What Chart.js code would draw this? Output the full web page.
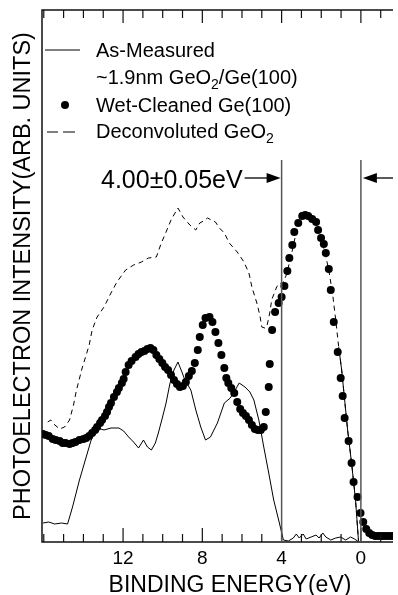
<!DOCTYPE html>
<html>
<head>
<meta charset="utf-8">
<script src="https://cdn.jsdelivr.net/npm/chart.js@4.4.0/dist/chart.umd.min.js"></script>
<style>
  html, body { margin: 0; padding: 0; background: #fff; }
</style>
</head>
<body>
<canvas id="grafico" width="398" height="595"></canvas>
<script>
// Espectros de valencia: [energía de enlace (eV), intensidad (u. arb.)]
const asMeasured = [
  [16.04,19],[15.75,20],[15.45,18],[15.1,19],[14.8,18],[14.55,35],[14.2,62],[13.86,85],[13.61,102],[13.31,114],
  [12.96,112],[12.61,114],[12.21,114],[11.97,111],[11.72,105],[11.47,100],[11.22,94],[10.97,102],[10.77,95],[10.57,92],
  [10.37,99],[10.22,109],[10.02,124],[9.83,139],[9.63,159],[9.43,172],[9.23,180],[9.03,170],[8.88,162],[8.58,152],
  [8.33,132],[8.08,115],[7.84,102],[7.59,105],[7.24,119],[6.89,139],[6.59,144],[6.34,152],[6.14,159],[5.85,155],
  [5.6,150],[5.4,142],[5.15,122],[4.9,95],[4.65,69],[4.4,42],[4.15,22],[3.91,2],[3.66,1],[3.41,4],
  [3.26,8],[3.11,4],[2.91,8],[2.76,3],[2.51,5],[2.26,7],[2.11,4],[1.92,9],[1.77,5],[1.52,2],
  [1.27,4],[1.02,5],[0.77,2],[0.52,5],[0.32,3],[0.17,1],[0.12,1],[0.27,42],[0.47,79],[0.67,112],
  [0.82,142],[0.97,172],[1.12,195]
];

const deconvolutedGeO2 = [
  [15.8,120],[15.65,122],[15.5,118],[15.2,113],[14.95,115],[14.7,122],[14.5,137],[14.35,152],[14.05,175],[13.86,187],
  [13.71,197],[13.56,212],[13.31,225],[12.96,235],[12.61,249],[12.31,260],[11.87,272],[11.47,277],[11.07,280],[10.72,284],
  [10.32,285],[10.07,299],[9.83,310],[9.58,322],[9.38,329],[9.23,334],[8.98,325],[8.63,317],[8.33,312],[8.13,319],
  [7.94,321],[7.74,324],[7.54,322],[7.34,320],[7.14,314],[6.89,309],[6.64,299],[6.24,290],[5.9,280],[5.65,269],
  [5.5,255],[5.25,239],[5.1,227],[5.0,215],[4.85,214],[4.75,215],[4.6,229],[4.5,242],[4.35,250],[4.25,255],
  [4.1,259],[3.96,258],[3.76,267],[3.51,287],[3.26,310],[3.01,330],[2.66,324],[2.36,321],[2.06,307],[1.82,290],
  [1.62,272],[1.42,247],[1.27,222],[1.12,195],[0.97,172],[0.82,142],[0.67,112],[0.47,79],[0.27,42],[0.12,1]
];

const wetCleaned = [
  [16.04,108],[15.9,107],[15.75,106],[15.55,103],[15.4,102],[15.2,101],[15.05,99],[14.9,99],[14.7,98],[14.55,99],
  [14.4,100],[14.2,102],[14.0,103],[13.86,104],[13.71,106],[13.56,109],[13.41,112],[13.31,115],[13.16,119],[13.06,122],
  [12.91,126],[12.81,130],[12.71,135],[12.61,139],[12.46,145],[12.31,150],[12.21,154],[12.06,159],[11.97,163],[11.87,170],
  [11.72,177],[11.57,181],[11.37,185],[11.22,188],[11.07,190],[10.92,191],[10.77,193],[10.62,194],[10.47,192],[10.32,187],
  [10.17,183],[10.02,179],[9.88,175],[9.73,172],[9.58,167],[9.43,162],[9.28,158],[9.13,155],[8.98,156],[8.83,160],
  [8.68,166],[8.53,171],[8.38,179],[8.23,192],[8.13,205],[7.98,217],[7.84,224],[7.64,225],[7.49,220],[7.34,210],
  [7.19,199],[7.04,187],[6.89,174],[6.79,164],[6.69,159],[6.54,154],[6.39,149],[6.24,140],[6.09,133],[5.95,129],
  [5.8,126],[5.65,122],[5.5,117],[5.35,113],[5.2,112],[5.05,112],[4.9,115],[4.8,130],[4.65,155],[4.6,178],
  [4.48,212],[4.33,230],[4.15,239],[4.0,245],[3.86,256],[3.71,271],[3.61,284],[3.46,297],[3.36,310],[3.16,319],
  [2.96,326],[2.81,327],[2.66,326],[2.46,323],[2.26,320],[2.16,312],[2.01,304],[1.87,298],[1.77,289],[1.62,273],
  [1.52,252],[1.37,220],[1.17,190],[1.02,164],[0.92,146],[0.82,124],[0.62,101],[0.47,79],[0.37,60],[0.17,45],
  [0.02,29],[-0.12,20],[-0.27,13],[-0.42,9],[-0.57,7],[-0.72,6],[-0.87,6],[-1.02,6],[-1.17,6],[-1.32,6],
  [-1.47,6],[-1.62,6]
];

// Ejes
const labeledTicks = [0, 4, 8, 12];
const energyMin = -1.62;
const energyMax = 16.09;
const intensityMax = 532;

// Bordes de banda marcados y su separación
const edgeEnergies = [4, 0];
const edgeTop = 382;
const arrowLevel = 364;
const separationText = "4.00\u00B10.05eV";

const FONT = "'Liberation Sans', Arial, sans-serif";
const toPoints = pares => pares.map(([x, y]) => ({ x, y }));

// Flecha horizontal con punta rellena
function flecha(ctx, desde, hasta, y) {
  const dir = Math.sign(hasta - desde);
  ctx.beginPath();
  ctx.moveTo(desde, y);
  ctx.lineTo(hasta - dir * 12, y);
  ctx.stroke();
  ctx.beginPath();
  ctx.moveTo(hasta, y);
  ctx.lineTo(hasta - dir * 14, y - 5);
  ctx.lineTo(hasta - dir * 14, y + 5);
  ctx.closePath();
  ctx.fill();
}

// Texto con subíndices: partes = [[texto, esSub], ...]
function textoRico(ctx, partes, x, base) {
  partes.forEach(([t, sub]) => {
    ctx.font = (sub ? "14px " : "20px ") + FONT;
    ctx.fillText(t, x, sub ? base + 5 : base);
    x += ctx.measureText(t).width;
  });
}

const adornos = {
  id: "adornos",
  afterDatasetsDraw(chart) {
    const { ctx, chartArea: area, scales: { x, y } } = chart;
    ctx.save();
    ctx.strokeStyle = "#111";
    ctx.fillStyle = "#000";

    // Marco: izquierda, arriba y abajo
    ctx.lineWidth = 1.5;
    ctx.beginPath();
    ctx.moveTo(area.right, area.top);
    ctx.lineTo(area.left, area.top);
    ctx.lineTo(area.left, area.bottom);
    ctx.lineTo(area.right, area.bottom);
    ctx.stroke();

    // Marcas hacia dentro cada 1 eV, más largas en las rotuladas
    ctx.lineWidth = 1.2;
    for (let e = Math.ceil(energyMin); e <= Math.floor(energyMax); e++) {
      const px = x.getPixelForValue(e);
      const larga = labeledTicks.includes(e);
      ctx.beginPath();
      ctx.moveTo(px, area.bottom);
      ctx.lineTo(px, area.bottom - (larga ? 14 : 8));
      ctx.moveTo(px, area.top);
      ctx.lineTo(px, area.top + (larga ? 13 : 8));
      ctx.stroke();
    }

    // Líneas verticales en los bordes
    ctx.strokeStyle = "#555";
    ctx.lineWidth = 1.5;
    const yTop = y.getPixelForValue(edgeTop);
    edgeEnergies.forEach(e => {
      const px = x.getPixelForValue(e);
      ctx.beginPath();
      ctx.moveTo(px, yTop);
      ctx.lineTo(px, area.bottom);
      ctx.stroke();
    });

    // Flechas y separación
    ctx.strokeStyle = "#000";
    ctx.lineWidth = 1.3;
    const yFlecha = y.getPixelForValue(arrowLevel);
    const x4 = x.getPixelForValue(edgeEnergies[0]);
    const x0 = x.getPixelForValue(edgeEnergies[1]);
    flecha(ctx, x4 - 37, x4 - 1, yFlecha);
    flecha(ctx, area.right, x0 + 2, yFlecha);
    ctx.font = "25px " + FONT;
    ctx.textAlign = "right";
    ctx.textBaseline = "alphabetic";
    ctx.fillText(separationText, x4 - 39, yFlecha + 10);

    // Leyenda
    ctx.textAlign = "left";
    ctx.lineWidth = 1;
    ctx.beginPath();
    ctx.moveTo(45, 50);
    ctx.lineTo(80, 50);
    ctx.stroke();
    ctx.beginPath();
    ctx.arc(65, 105, 4, 0, Math.PI * 2);
    ctx.fill();
    ctx.beginPath();
    ctx.moveTo(47, 132); ctx.lineTo(58, 132);
    ctx.moveTo(63, 132); ctx.lineTo(75, 132);
    ctx.stroke();
    textoRico(ctx, [["As-Measured"]], 96, 57);
    textoRico(ctx, [["~1.9nm GeO"], ["2", true], ["/Ge(100)"]], 96, 84);
    textoRico(ctx, [["Wet-Cleaned Ge(100)"]], 96, 112);
    textoRico(ctx, [["Deconvoluted GeO"], ["2", true]], 96, 138);

    // Título del eje x
    ctx.font = "23px " + FONT;
    ctx.textAlign = "center";
    ctx.fillText("BINDING ENERGY(eV)", 230, 592);
    ctx.restore();
  }
};

new Chart(document.getElementById("grafico"), {
  data: {
    datasets: [
      {
        type: "scatter",
        label: "Wet-Cleaned Ge(100)",
        data: toPoints(wetCleaned),
        pointRadius: 4,
        pointBackgroundColor: "#000",
        pointBorderWidth: 0,
        showLine: false
      },
      {
        type: "line",
        label: "Deconvoluted GeO2",
        data: toPoints(deconvolutedGeO2),
        borderColor: "#000",
        borderWidth: 1,
        borderDash: [5, 4],
        pointRadius: 0,
        tension: 0
      },
      {
        type: "line",
        label: "As-Measured ~1.9nm GeO2/Ge(100)",
        data: toPoints(asMeasured),
        borderColor: "#000",
        borderWidth: 1,
        pointRadius: 0,
        tension: 0
      }
    ]
  },
  options: {
    responsive: false,
    animation: false,
    layout: { padding: { top: 10, left: 0, right: 0, bottom: 0 } },
    plugins: { legend: { display: false }, tooltip: { enabled: false } },
    scales: {
      x: {
        type: "linear",
        reverse: true,
        min: energyMin,
        max: energyMax,
        grid: { display: false, drawTicks: false },
        border: { display: false },
        ticks: {
          stepSize: 1,
          autoSkip: false,
          maxRotation: 0,
          padding: 5,
          color: "#000",
          font: { family: FONT, size: 19 },
          callback: v => labeledTicks.includes(v) ? String(v) : ""
        },
        afterFit: s => { s.height = 53; }
      },
      y: {
        min: 0,
        max: intensityMax,
        grid: { display: false, drawTicks: false },
        border: { display: false },
        ticks: { display: false },
        title: {
          display: true,
          text: "PHOTOELECTRON INTENSITY(ARB. UNITS)",
          color: "#000",
          font: { family: FONT, size: 23.5, lineHeight: 1.2 },
          padding: { top: 9, bottom: 0 }
        },
        afterFit: s => { s.width = 42; }
      }
    }
  },
  plugins: [adornos]
});
</script>
</body>
</html>
